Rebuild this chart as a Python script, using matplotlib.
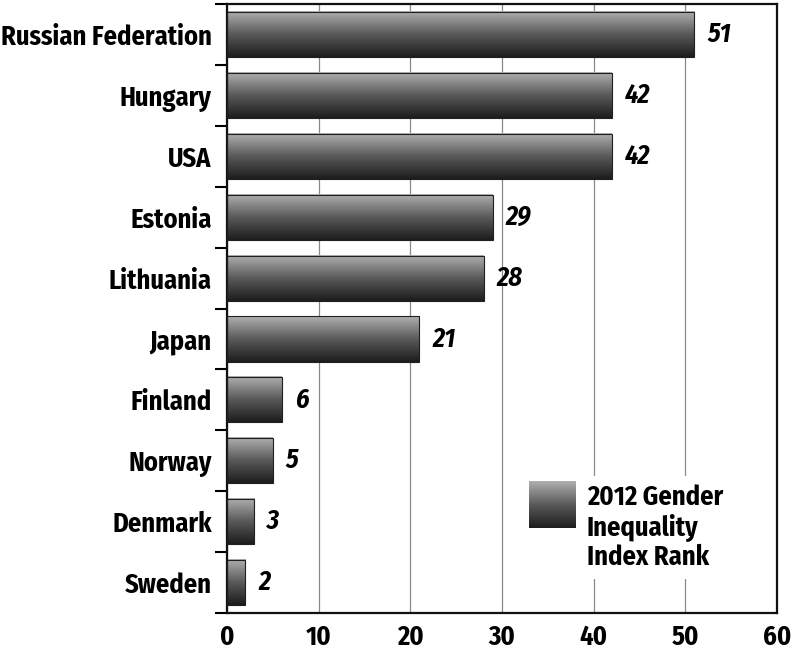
import numpy as np
import matplotlib
matplotlib.use('Agg')
import matplotlib.pyplot as plt
from matplotlib.colors import LinearSegmentedColormap
from matplotlib.legend_handler import HandlerBase
from matplotlib.image import BboxImage
from matplotlib.transforms import Bbox, TransformedBbox
from matplotlib.patches import Rectangle

# 数据
countries = ['Russian Federation', 'Hungary', 'USA', 'Estonia', 'Lithuania',
             'Japan', 'Finland', 'Norway', 'Denmark', 'Sweden']
ranks = [51, 42, 42, 29, 28, 21, 6, 5, 3, 2]
x_ticks = [0, 10, 20, 30, 40, 50, 60]
legend_label = '2012 Gender\nInequality\nIndex Rank'

plt.rcParams['font.family'] = ['Fira Sans Condensed', 'DejaVu Sans']
plt.rcParams['font.weight'] = 'bold'
FS = 19

# 灰度渐变：上浅下深
cmap = LinearSegmentedColormap.from_list('grad', ['#1c1c1c', '#5a5a5a', '#b0b0b0'])
grad = np.linspace(0, 1, 256).reshape(-1, 1)


class GradHandler(HandlerBase):
    # 正方形色块，顶部与文字顶部对齐
    def create_artists(self, legend, orig_handle, xdescent, ydescent,
                       width, height, fontsize, trans):
        side = width
        top = -ydescent + height + 12
        bb = TransformedBbox(Bbox.from_bounds(-xdescent, top - side, width, side), trans)
        img = BboxImage(bb, cmap=cmap, origin='lower', interpolation='bilinear')
        img.set_data(grad)
        img.set_clim(0, 1)
        return [img]


fig = plt.figure(figsize=(7.92, 6.5), dpi=100)
ax = fig.add_axes([0.2866, 0.0569, 0.6944, 0.9369])

y = np.arange(len(countries))
bars = ax.barh(y, ranks, height=0.74, color='none', edgecolor='#202020',
               linewidth=0.8, zorder=3)
for b in bars:
    x0, y0, w, h = b.get_x(), b.get_y(), b.get_width(), b.get_height()
    ax.imshow(grad, cmap=cmap, vmin=0, vmax=1, aspect='auto',
              extent=[x0, x0 + w, y0 + h, y0], origin='lower',
              interpolation='bilinear', zorder=2)

for yi, v in zip(y, ranks):
    ax.text(v + 1.4, yi, str(v), ha='left', va='center', fontsize=FS,
            fontweight='bold', fontstyle='italic', zorder=4)

ax.set_xlim(0, 60)
ax.set_ylim(len(countries) - 0.5, -0.5)
ax.set_xticks(x_ticks)
ax.set_xticklabels([str(t) for t in x_ticks], fontsize=FS, fontweight='bold')
ax.tick_params(axis='x', length=0, pad=8)
ax.set_yticks(y)
ax.set_yticklabels(countries, fontsize=FS, fontweight='bold')
ax.tick_params(axis='y', which='major', length=0, pad=11)
ax.set_yticks(np.arange(-0.5, len(countries), 1), minor=True)
ax.tick_params(axis='y', which='minor', length=9, width=1.5, direction='out')

ax.grid(axis='x', color='#888888', linewidth=0.9, zorder=0)
ax.set_axisbelow(True)
for s in ax.spines.values():
    s.set_linewidth(1.6)
    s.set_color('#111111')

handle = Rectangle((0, 0), 1, 1)
leg = ax.legend([handle], [legend_label], handler_map={Rectangle: GradHandler()},
                loc='lower right', bbox_to_anchor=(0.94, 0.035),
                frameon=True, fancybox=False, edgecolor='none', framealpha=1,
                fontsize=FS, handlelength=1.75, handleheight=3.3,
                handletextpad=0.45, borderpad=0.3)
for t in leg.get_texts():
    t.set_fontweight('bold')
    t.set_linespacing(1.12)

fig.savefig('out.png', dpi=100)
